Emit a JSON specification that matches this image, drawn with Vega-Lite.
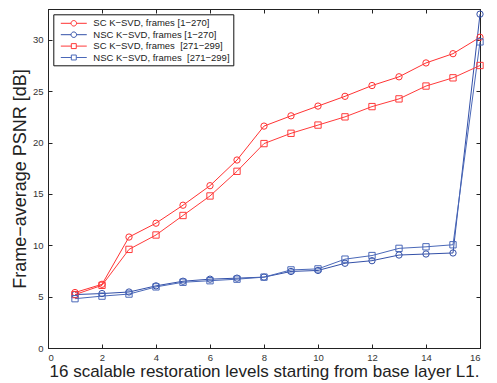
{
  "$schema": "https://vega.github.io/schema/vega-lite/v6.json",
  "width": 432,
  "height": 339,
  "autosize": "none",
  "padding": {"left": 48, "top": 9, "right": 17, "bottom": 35},
  "background": "white",
  "config": {
    "font": "Liberation Sans",
    "view": {"stroke": "#222222", "strokeWidth": 1},
    "axis": {
      "grid": false,
      "domainColor": "#222222",
      "tickColor": "#222222",
      "tickSize": -4,
      "labelFontSize": 9.5,
      "labelColor": "#333333",
      "labelFont": "Liberation Sans",
      "titleFont": "Liberation Sans",
      "titleFontWeight": "normal",
      "titleColor": "#222222"
    }
  },
  "data": {
    "values": [
      {"x": 1, "y": 5.4, "series": "SC K−SVD, frames [1−270]", "marker": "circle"},
      {"x": 2, "y": 6.2, "series": "SC K−SVD, frames [1−270]", "marker": "circle"},
      {"x": 3, "y": 10.8, "series": "SC K−SVD, frames [1−270]", "marker": "circle"},
      {"x": 4, "y": 12.15, "series": "SC K−SVD, frames [1−270]", "marker": "circle"},
      {"x": 5, "y": 13.9, "series": "SC K−SVD, frames [1−270]", "marker": "circle"},
      {"x": 6, "y": 15.8, "series": "SC K−SVD, frames [1−270]", "marker": "circle"},
      {"x": 7, "y": 18.3, "series": "SC K−SVD, frames [1−270]", "marker": "circle"},
      {"x": 8, "y": 21.6, "series": "SC K−SVD, frames [1−270]", "marker": "circle"},
      {"x": 9, "y": 22.6, "series": "SC K−SVD, frames [1−270]", "marker": "circle"},
      {"x": 10, "y": 23.55, "series": "SC K−SVD, frames [1−270]", "marker": "circle"},
      {"x": 11, "y": 24.5, "series": "SC K−SVD, frames [1−270]", "marker": "circle"},
      {"x": 12, "y": 25.55, "series": "SC K−SVD, frames [1−270]", "marker": "circle"},
      {"x": 13, "y": 26.4, "series": "SC K−SVD, frames [1−270]", "marker": "circle"},
      {"x": 14, "y": 27.75, "series": "SC K−SVD, frames [1−270]", "marker": "circle"},
      {"x": 15, "y": 28.65, "series": "SC K−SVD, frames [1−270]", "marker": "circle"},
      {"x": 16, "y": 30.25, "series": "SC K−SVD, frames [1−270]", "marker": "circle"},
      {"x": 1, "y": 5.2, "series": "NSC K−SVD, frames [1−270]", "marker": "circle"},
      {"x": 2, "y": 5.3, "series": "NSC K−SVD, frames [1−270]", "marker": "circle"},
      {"x": 3, "y": 5.45, "series": "NSC K−SVD, frames [1−270]", "marker": "circle"},
      {"x": 4, "y": 6.05, "series": "NSC K−SVD, frames [1−270]", "marker": "circle"},
      {"x": 5, "y": 6.5, "series": "NSC K−SVD, frames [1−270]", "marker": "circle"},
      {"x": 6, "y": 6.7, "series": "NSC K−SVD, frames [1−270]", "marker": "circle"},
      {"x": 7, "y": 6.8, "series": "NSC K−SVD, frames [1−270]", "marker": "circle"},
      {"x": 8, "y": 6.9, "series": "NSC K−SVD, frames [1−270]", "marker": "circle"},
      {"x": 9, "y": 7.45, "series": "NSC K−SVD, frames [1−270]", "marker": "circle"},
      {"x": 10, "y": 7.55, "series": "NSC K−SVD, frames [1−270]", "marker": "circle"},
      {"x": 11, "y": 8.25, "series": "NSC K−SVD, frames [1−270]", "marker": "circle"},
      {"x": 12, "y": 8.5, "series": "NSC K−SVD, frames [1−270]", "marker": "circle"},
      {"x": 13, "y": 9.05, "series": "NSC K−SVD, frames [1−270]", "marker": "circle"},
      {"x": 14, "y": 9.15, "series": "NSC K−SVD, frames [1−270]", "marker": "circle"},
      {"x": 15, "y": 9.25, "series": "NSC K−SVD, frames [1−270]", "marker": "circle"},
      {"x": 16, "y": 32.5, "series": "NSC K−SVD, frames [1−270]", "marker": "circle"},
      {"x": 1, "y": 5.2, "series": "SC K−SVD, frames \u00a0[271−299]", "marker": "square"},
      {"x": 2, "y": 6.1, "series": "SC K−SVD, frames \u00a0[271−299]", "marker": "square"},
      {"x": 3, "y": 9.6, "series": "SC K−SVD, frames \u00a0[271−299]", "marker": "square"},
      {"x": 4, "y": 11.0, "series": "SC K−SVD, frames \u00a0[271−299]", "marker": "square"},
      {"x": 5, "y": 12.9, "series": "SC K−SVD, frames \u00a0[271−299]", "marker": "square"},
      {"x": 6, "y": 14.8, "series": "SC K−SVD, frames \u00a0[271−299]", "marker": "square"},
      {"x": 7, "y": 17.2, "series": "SC K−SVD, frames \u00a0[271−299]", "marker": "square"},
      {"x": 8, "y": 19.9, "series": "SC K−SVD, frames \u00a0[271−299]", "marker": "square"},
      {"x": 9, "y": 20.9, "series": "SC K−SVD, frames \u00a0[271−299]", "marker": "square"},
      {"x": 10, "y": 21.7, "series": "SC K−SVD, frames \u00a0[271−299]", "marker": "square"},
      {"x": 11, "y": 22.5, "series": "SC K−SVD, frames \u00a0[271−299]", "marker": "square"},
      {"x": 12, "y": 23.5, "series": "SC K−SVD, frames \u00a0[271−299]", "marker": "square"},
      {"x": 13, "y": 24.25, "series": "SC K−SVD, frames \u00a0[271−299]", "marker": "square"},
      {"x": 14, "y": 25.5, "series": "SC K−SVD, frames \u00a0[271−299]", "marker": "square"},
      {"x": 15, "y": 26.3, "series": "SC K−SVD, frames \u00a0[271−299]", "marker": "square"},
      {"x": 16, "y": 27.5, "series": "SC K−SVD, frames \u00a0[271−299]", "marker": "square"},
      {"x": 1, "y": 4.8, "series": "NSC K−SVD, frames \u00a0[271−299]", "marker": "square"},
      {"x": 2, "y": 5.05, "series": "NSC K−SVD, frames \u00a0[271−299]", "marker": "square"},
      {"x": 3, "y": 5.25, "series": "NSC K−SVD, frames \u00a0[271−299]", "marker": "square"},
      {"x": 4, "y": 5.95, "series": "NSC K−SVD, frames \u00a0[271−299]", "marker": "square"},
      {"x": 5, "y": 6.4, "series": "NSC K−SVD, frames \u00a0[271−299]", "marker": "square"},
      {"x": 6, "y": 6.55, "series": "NSC K−SVD, frames \u00a0[271−299]", "marker": "square"},
      {"x": 7, "y": 6.7, "series": "NSC K−SVD, frames \u00a0[271−299]", "marker": "square"},
      {"x": 8, "y": 6.9, "series": "NSC K−SVD, frames \u00a0[271−299]", "marker": "square"},
      {"x": 9, "y": 7.6, "series": "NSC K−SVD, frames \u00a0[271−299]", "marker": "square"},
      {"x": 10, "y": 7.7, "series": "NSC K−SVD, frames \u00a0[271−299]", "marker": "square"},
      {"x": 11, "y": 8.65, "series": "NSC K−SVD, frames \u00a0[271−299]", "marker": "square"},
      {"x": 12, "y": 9.0, "series": "NSC K−SVD, frames \u00a0[271−299]", "marker": "square"},
      {"x": 13, "y": 9.7, "series": "NSC K−SVD, frames \u00a0[271−299]", "marker": "square"},
      {"x": 14, "y": 9.85, "series": "NSC K−SVD, frames \u00a0[271−299]", "marker": "square"},
      {"x": 15, "y": 10.05, "series": "NSC K−SVD, frames \u00a0[271−299]", "marker": "square"},
      {"x": 16, "y": 29.8, "series": "NSC K−SVD, frames \u00a0[271−299]", "marker": "square"}
    ]
  },
  "layer": [
    {
      "mark": {"type": "line", "strokeWidth": 1},
      "encoding": {
        "x": {
          "field": "x", "type": "quantitative",
          "scale": {"domain": [0, 16], "nice": false},
          "axis": {"orient": "bottom", "values": [0, 2, 4, 6, 8, 10, 12, 14, 16], "format": "d",
                   "labelPadding": 8, "title": "16 scalable restoration levels starting from base layer L1.",
                   "titleFontSize": 17, "titlePadding": 2}
        },
        "y": {
          "field": "y", "type": "quantitative",
          "scale": {"domain": [0, 33], "nice": false},
          "axis": {"orient": "left", "values": [0, 5, 10, 15, 20, 25, 30], "format": "d",
                   "labelPadding": 9, "title": "Frame−average PSNR [dB]",
                   "titleFontSize": 18, "titlePadding": 3}
        },
        "color": {
          "field": "series", "type": "nominal",
          "scale": {
            "domain": ["SC K−SVD, frames [1−270]", "NSC K−SVD, frames [1−270]", "SC K−SVD, frames \u00a0[271−299]", "NSC K−SVD, frames \u00a0[271−299]"],
            "range": ["#ff3333", "#3350a8", "#ff3a3a", "#4a68b8"]
          }
        },
        "order": {"field": "x", "type": "quantitative"}
      }
    },
    {
      "mark": {"type": "point", "filled": false, "size": 40, "strokeWidth": 1, "opacity": 1},
      "encoding": {
        "x": {
          "field": "x", "type": "quantitative",
          "axis": {"orient": "top", "values": [0, 2, 4, 6, 8, 10, 12, 14, 16], "labels": false, "title": null}
        },
        "y": {
          "field": "y", "type": "quantitative",
          "axis": {"orient": "right", "values": [0, 5, 10, 15, 20, 25, 30], "labels": false, "title": null}
        },
        "color": {"field": "series", "type": "nominal"},
        "shape": {"field": "marker", "type": "nominal", "scale": null}
      }
    },
    {
      "transform": [{"filter": "datum.x > 100"}],
      "mark": {"type": "point", "filled": false, "strokeWidth": 1},
      "encoding": {
        "x": {"field": "x", "type": "quantitative", "axis": null},
        "y": {"field": "y", "type": "quantitative", "axis": null},
        "color": {
          "field": "series", "type": "nominal",
          "legend": {
            "orient": "none", "legendX": 5.3, "legendY": 5.3, "title": null,
            "direction": "vertical", "columns": 1,
            "strokeColor": "#111111", "fillColor": "white", "padding": 3,
            "symbolSize": 121, "symbolStrokeWidth": 1, "symbolOpacity": 1,
            "labelOffset": 25, "labelFontSize": 9.5, "labelColor": "#222222",
            "labelFont": "Liberation Sans", "rowPadding": 0.4, "labelLimit": 0
          }
        },
        "shape": {
          "field": "series", "type": "nominal",
          "scale": {
            "domain": ["SC K−SVD, frames [1−270]", "NSC K−SVD, frames [1−270]", "SC K−SVD, frames \u00a0[271−299]", "NSC K−SVD, frames \u00a0[271−299]"],
            "range": [
              "M-0.27,0H1.59M2.59,0H4.45M1.59,0A0.5,0.5 0 1,1 2.59,0A0.5,0.5 0 1,1 1.59,0",
              "M-0.27,0H1.59M2.59,0H4.45M1.59,0A0.5,0.5 0 1,1 2.59,0A0.5,0.5 0 1,1 1.59,0",
              "M-0.27,0H1.64M2.54,0H4.45M1.64,-0.45H2.54V0.45H1.64Z",
              "M-0.27,0H1.64M2.54,0H4.45M1.64,-0.45H2.54V0.45H1.64Z"
            ]
          },
          "legend": {
            "orient": "none", "legendX": 5.3, "legendY": 5.3, "title": null,
            "direction": "vertical", "columns": 1,
            "strokeColor": "#111111", "fillColor": "white", "padding": 3,
            "symbolSize": 121, "symbolStrokeWidth": 1, "symbolOpacity": 1,
            "labelOffset": 25, "labelFontSize": 9.5, "labelColor": "#222222",
            "labelFont": "Liberation Sans", "rowPadding": 0.4, "labelLimit": 0
          }
        }
      }
    }
  ]
}
